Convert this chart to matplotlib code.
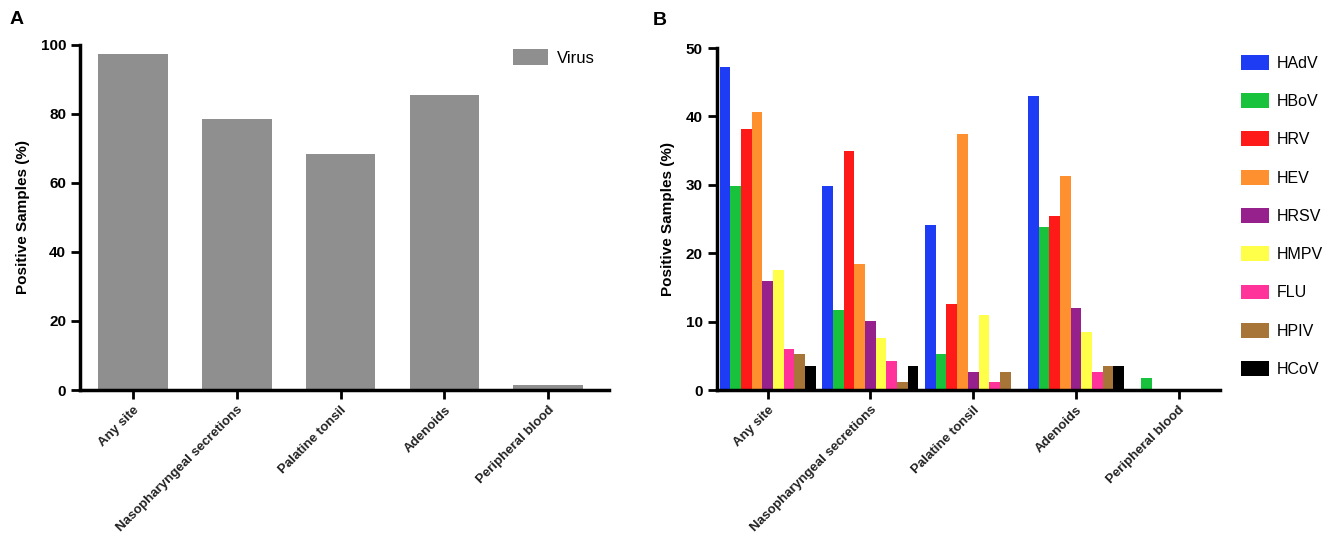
import matplotlib.pyplot as plt
import numpy as np

plt.rcParams['font.family'] = ['Liberation Sans', 'DejaVu Sans']

sites = ["Any site", "Nasopharyngeal secretions", "Palatine tonsil", "Adenoids", "Peripheral blood"]
virus_any = [97.4, 78.4, 68.3, 85.4, 1.5]

viruses = ["HAdV", "HBoV", "HRV", "HEV", "HRSV", "HMPV", "FLU", "HPIV", "HCoV"]
colors = ["#1f3cf5", "#18c23c", "#ff1a1a", "#ff9030", "#96208c", "#ffff4a", "#ff3399", "#a87538", "#000000"]
# one list per virus, values per site
hadv = [47.3, 29.9, 24.1, 43.0, 0]
hbov = [29.9, 11.7, 5.2, 23.8, 1.8]
hrv = [38.2, 35.0, 12.6, 25.4, 0]
hev = [40.7, 18.4, 37.4, 31.3, 0]
hrsv = [15.9, 10.1, 2.6, 12.0, 0]
hmpv = [17.6, 7.6, 10.9, 8.5, 0]
flu = [6.0, 4.3, 1.1, 2.7, 0]
hpiv = [5.2, 1.1, 2.6, 3.5, 0]
hcov = [3.5, 3.5, 0, 3.5, 0]
per_virus = [hadv, hbov, hrv, hev, hrsv, hmpv, flu, hpiv, hcov]

fig = plt.figure(figsize=(13.3, 5.48), dpi=100)

def style_axes(ax):
    for s in ['top', 'right']:
        ax.spines[s].set_visible(False)
    for s in ['left', 'bottom']:
        ax.spines[s].set_linewidth(2.5)
    ax.tick_params(axis='both', width=2, length=6.5, direction='out')
    for lab in ax.get_yticklabels():
        lab.set_fontweight('bold')
        lab.set_fontsize(11)
    ax.set_xticks(range(len(sites)))
    ax.set_xticklabels(sites, rotation=45, ha='right', rotation_mode='anchor',
                       fontsize=9.5, fontweight='bold', color='#222222')
    ax.set_ylabel("Positive Samples (%)", fontsize=11, fontweight='bold', labelpad=8)

# panel A
axA = fig.add_axes([0.0602, 0.2883, 0.398, 0.630])
x = np.arange(len(sites))
axA.bar(x, virus_any, width=0.67, color="#8f8f8f", label="Virus")
axA.set_ylim(0, 100)
axA.set_xlim(-0.51, 4.59)
axA.set_yticks([0, 20, 40, 60, 80, 100])
style_axes(axA)
axA.legend(loc='upper right', bbox_to_anchor=(1.0, 1.03), frameon=False, fontsize=12,
           handlelength=2.1, handleheight=1.1, handletextpad=0.5)
fig.text(0.007, 0.965, "A", fontsize=14, fontweight='bold', va='center')

# panel B
axB = fig.add_axes([0.539, 0.2883, 0.378, 0.624])
n = len(viruses)
w = 0.935 / n
for i, (name, vals) in enumerate(zip(viruses, per_virus)):
    axB.bar(x - 0.935 / 2 + w * (i + 0.5), vals, width=w, color=colors[i], label=name)
axB.set_ylim(0, 50)
axB.set_xlim(-0.496, 4.40)
axB.set_yticks([0, 10, 20, 30, 40, 50])
style_axes(axB)
axB.legend(loc='upper left', bbox_to_anchor=(0.929, 0.910), bbox_transform=fig.transFigure,
           frameon=False, fontsize=11.5, handlelength=1.75, handleheight=1.06,
           labelspacing=1.40, handletextpad=0.45, borderaxespad=0, borderpad=0.35)
fig.text(0.491, 0.962, "B", fontsize=14, fontweight='bold', va='center')

fig.savefig("out.png", dpi=100)
